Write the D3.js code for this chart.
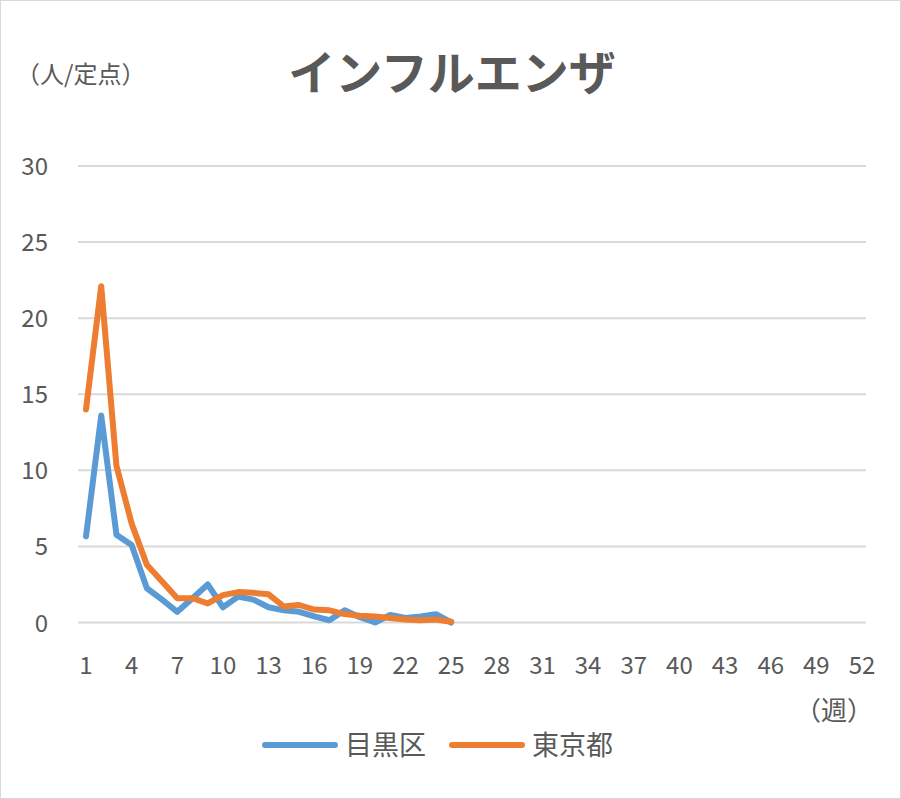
<!DOCTYPE html>
<html><head><meta charset="utf-8">
<script src="https://cdn.jsdelivr.net/npm/d3@7"></script>
<style>body{margin:0;background:#fff;} text{font-family:"Noto Sans CJK JP","Open Sans",sans-serif;fill:#595959;}</style>
</head><body>
<script>
var weeks = d3.range(1, 53);
var meguro = [5.66,13.6,5.77,5.1,2.25,1.5,0.7,1.6,2.5,1.0,1.7,1.5,1.0,0.8,0.7,0.4,0.15,0.8,0.35,0.0,0.5,0.3,0.4,0.55,0.0];
var tokyo = [14.0,22.1,10.3,6.5,3.8,2.7,1.6,1.6,1.25,1.8,2.0,1.95,1.85,1.05,1.15,0.85,0.8,0.55,0.45,0.4,0.3,0.2,0.15,0.2,0.05];
var yTicks = [0,5,10,15,20,25,30];
var series = [{name:"目黒区", values:meguro, color:"#5b9bd5"},{name:"東京都", values:tokyo, color:"#ed7d31"}];

var W = 901, H = 799;
var svg = d3.select("body").append("svg").attr("width", W).attr("height", H);
svg.append("rect").attr("x",0.5).attr("y",0.5).attr("width",W-1).attr("height",H-1)
  .attr("fill","#fff").attr("stroke","#d9d9d9");

var x = d3.scaleLinear().domain([1, 52]).range([86, 862]);
var y = d3.scaleLinear().domain([0, 30]).range([622.5, 166]);

svg.append("g").selectAll("line").data(yTicks).enter().append("line")
  .attr("x1",78).attr("x2",866).attr("y1",d=>y(d)).attr("y2",d=>y(d))
  .attr("stroke","#d9d9d9").attr("stroke-width",2);
svg.append("g").selectAll("text").data(yTicks).enter().append("text")
  .attr("x",48).attr("y",d=>y(d)+9).attr("text-anchor","end")
  .style("font-size","24px").text(d=>d);
svg.append("g").selectAll("text").data(weeks.filter(d=>(d-1)%3===0)).enter().append("text")
  .attr("x",d=>x(d)).attr("y",674).attr("text-anchor","middle")
  .style("font-size","24px").text(d=>d);

var line = d3.line().x((d,i)=>x(i+1)).y(d=>y(d));
series.forEach(function(s){
  svg.append("path").attr("d", line(s.values)).attr("fill","none")
    .attr("stroke", s.color).attr("stroke-width",6).attr("stroke-linejoin","round").attr("stroke-linecap","round");
});

svg.append("text").attr("x",452).attr("y",90).attr("text-anchor","middle")
  .style("font-size","47px").style("font-weight","bold").text("インフルエンザ");
svg.append("text").attr("x",16).attr("y",83).style("font-size","24px").text("（人/定点）");
svg.append("text").attr("x",795).attr("y",720).style("font-size","26px").text("（週）");

var lg = svg.append("g").selectAll("g").data(series).enter().append("g")
  .attr("transform",(d,i)=>"translate(" + (265 + i*187) + ",745)");
lg.append("line").attr("x1",0).attr("x2",70).attr("stroke",d=>d.color).attr("stroke-width",6).attr("stroke-linecap","round");
lg.append("text").attr("x",80).attr("y",10).style("font-size","27px").text(d=>d.name);
</script>
</body></html>
